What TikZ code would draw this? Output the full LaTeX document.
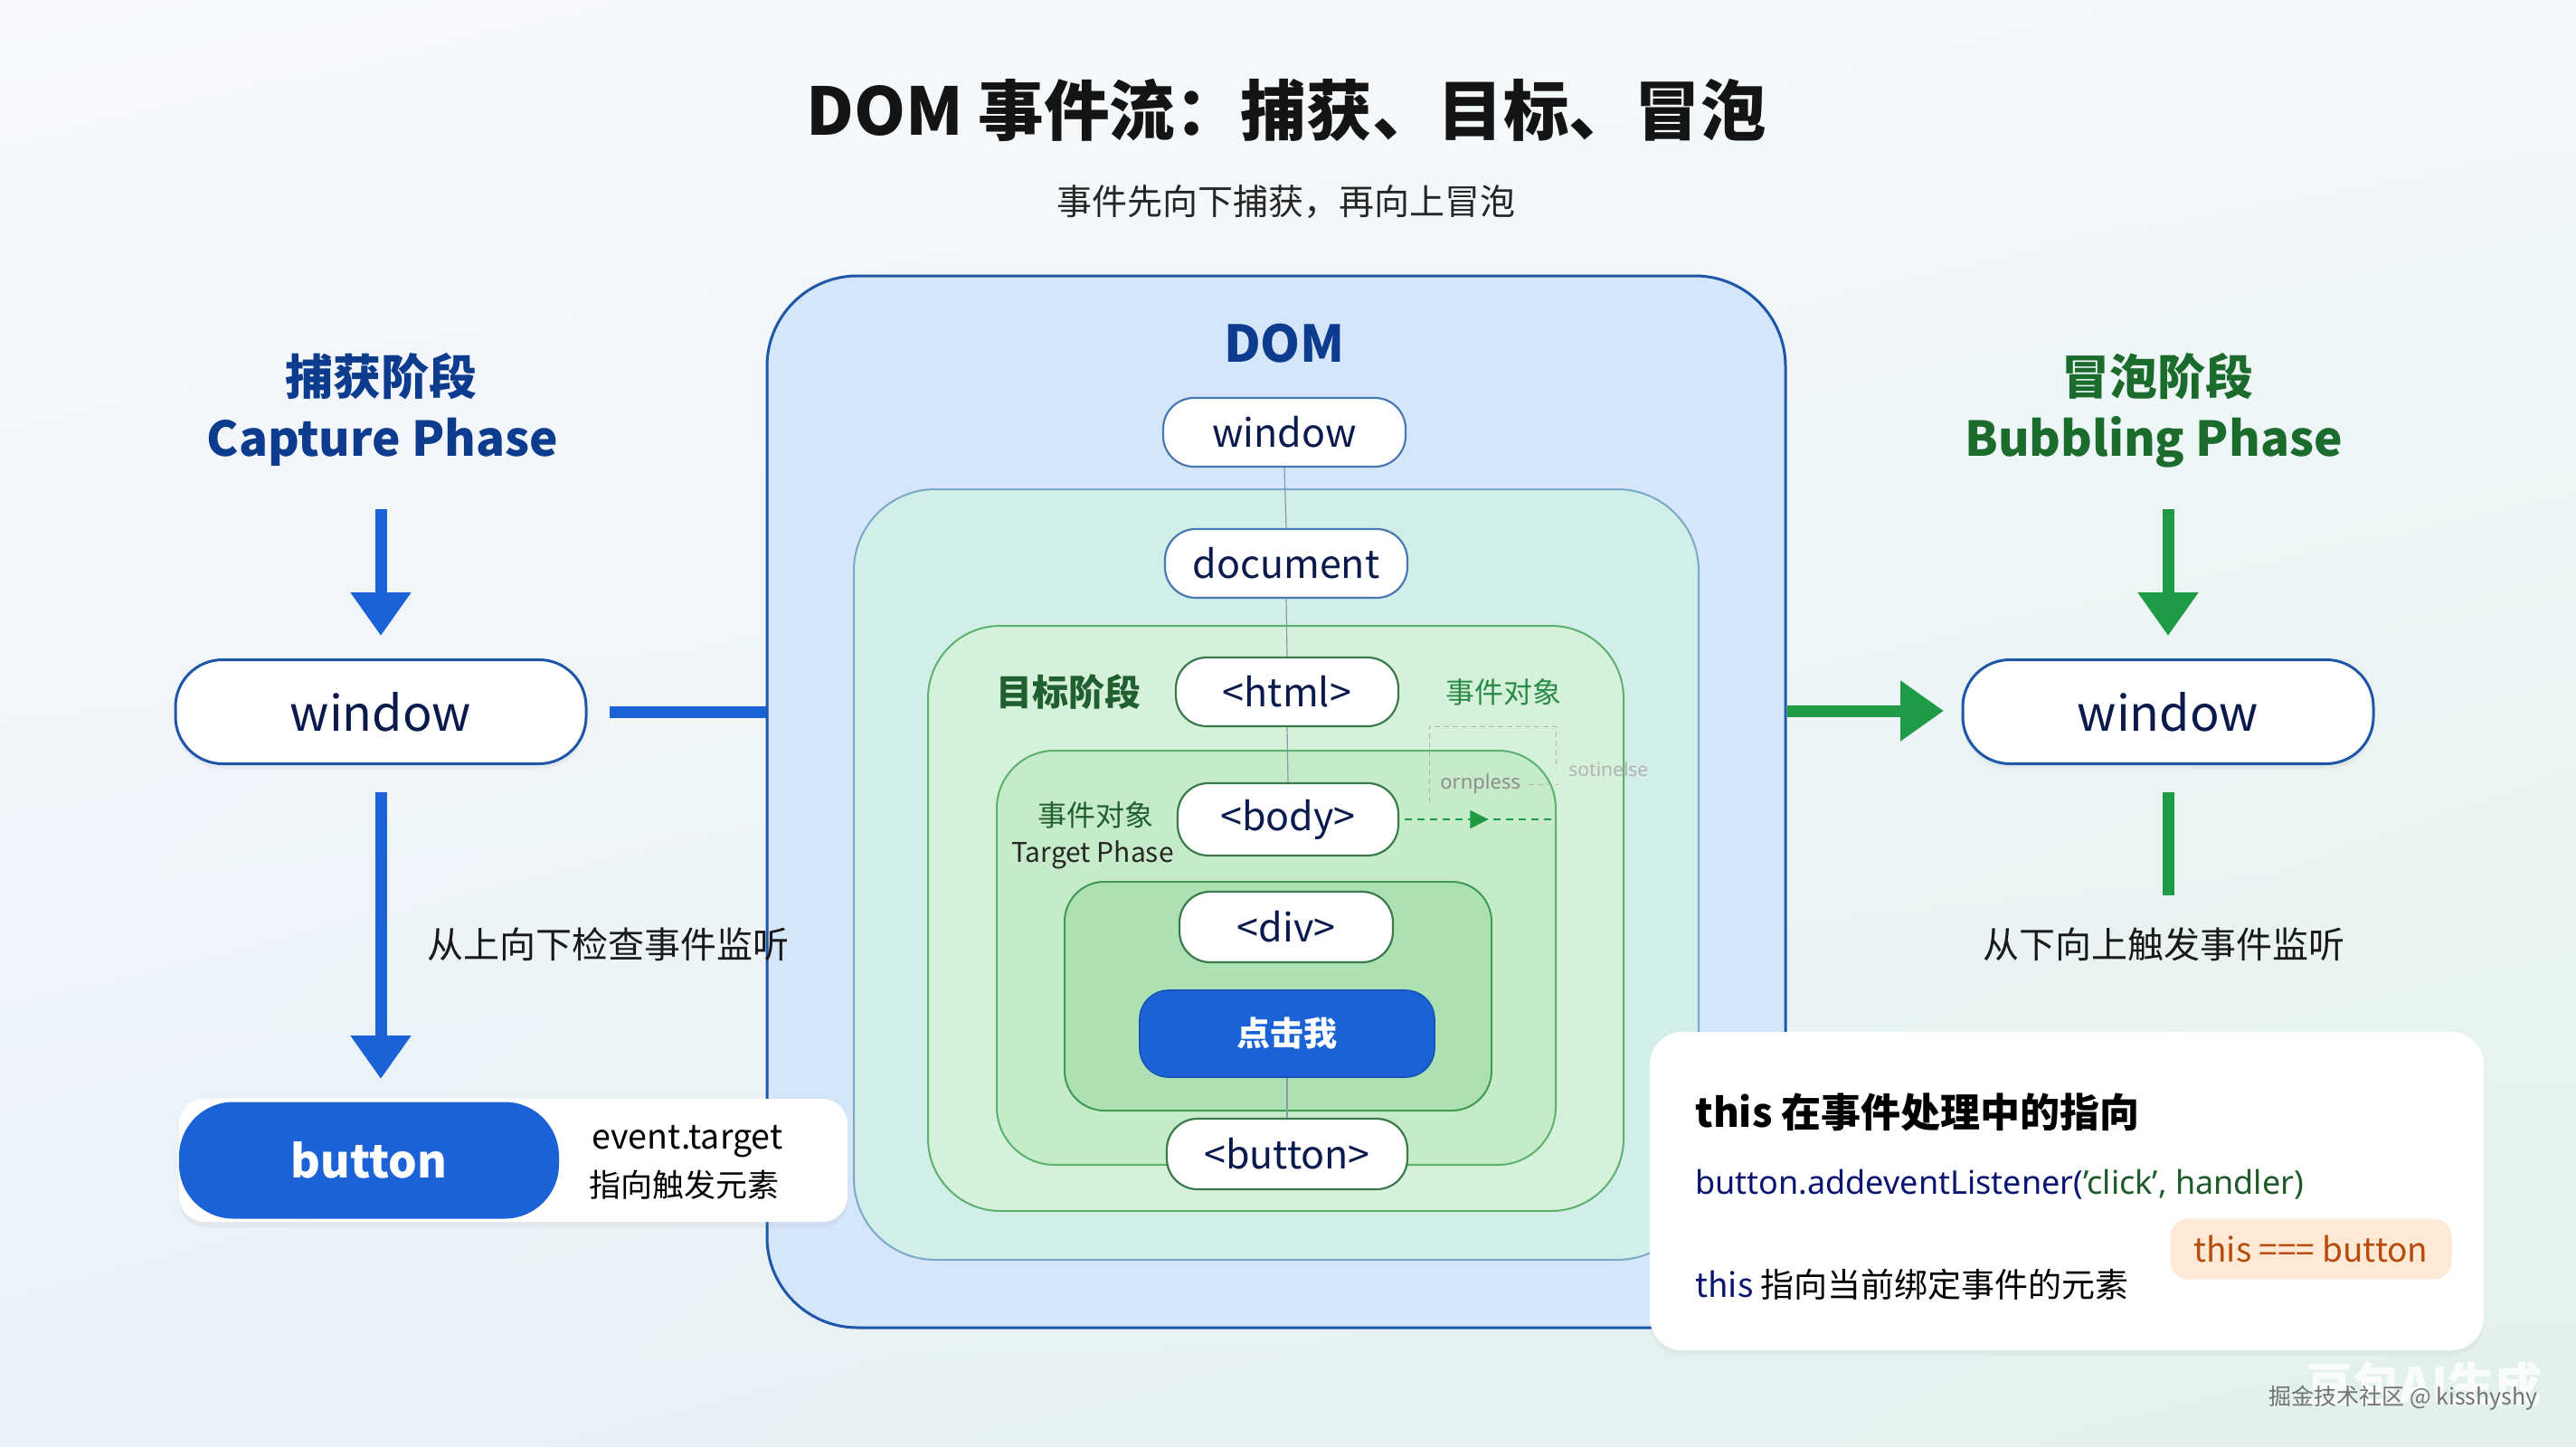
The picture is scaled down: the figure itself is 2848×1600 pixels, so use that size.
\documentclass[tikz,border=0pt]{standalone}
\usepackage{fontspec}
\setmainfont{Noto Sans CJK SC}
\newfontfamily\latinfont{Noto Sans}
\usetikzlibrary{arrows.meta,fit,shadows,shadings,decorations.markings}
\definecolor{bgA}{HTML}{F8FAFD}
\definecolor{bgB}{HTML}{F2F7FA}
\definecolor{bgC}{HTML}{E9F1F8}
\definecolor{bgD}{HTML}{E2F1EC}
\definecolor{domfill}{HTML}{D5E5FA}
\definecolor{domline}{HTML}{1E56A8}
\definecolor{docfill}{HTML}{D2EEE9}
\definecolor{docline}{HTML}{7AA8C8}
\definecolor{htmlfill}{HTML}{D6F1DA}
\definecolor{bodyfill}{HTML}{C5EBC9}
\definecolor{divfill}{HTML}{ADE1B3}
\definecolor{gline}{HTML}{5CB070}
\definecolor{gdark}{HTML}{3E9A55}
\definecolor{navy}{HTML}{0B1A4D}
\definecolor{capblue}{HTML}{0D3B8E}
\definecolor{bblue}{HTML}{1A62D6}
\definecolor{bubgreen}{HTML}{1A6B2C}
\definecolor{agreen}{HTML}{1F9A45}
\definecolor{tgreen}{HTML}{2A8A48}
\definecolor{tdgreen}{HTML}{1F5F30}
\definecolor{codegreen}{HTML}{1E5A2A}
\definecolor{orfill}{HTML}{FDE9D6}
\definecolor{ortext}{HTML}{B84A0A}
\definecolor{bordb}{HTML}{4A78B0}
\definecolor{bordg}{HTML}{3B7A4D}
\definecolor{connc}{HTML}{8A9AA8}
\newcommand\myfs[1]{\fontsize{#1}{#1}\selectfont}
\tikzset{
  box/.style={inner sep=0pt, line width=1pt},
  tagnode/.style={draw=bordg, fill=white, line width=1.1pt, rounded corners=17pt,
    minimum height=38pt, text=navy, font=\myfs{21.5}, inner sep=0pt},
  conn/.style={draw=connc, line width=0.6pt},
  bigarrow/.style={line width=6.5pt, -{Triangle[width=32pt,length=24pt]}},
  sidenode/.style={draw=domline, fill=white, line width=1.5pt, rounded corners=26pt,
    minimum width=227pt, minimum height=57.5pt, text=navy, font=\myfs{27},
    drop shadow={opacity=0.08, shadow xshift=0pt, shadow yshift=-3pt}},
  faint/.style={draw=black!30, line width=0.5pt, dash pattern=on 3pt off 2pt}
}
\begin{document}
\begin{tikzpicture}[x=0.5pt,y=-0.5pt]
\useasboundingbox (0,0) rectangle (2848,1600);
\shade[upper left=bgA, upper right=bgB, lower left=bgC, lower right=bgD] (0,0) rectangle (2848,1600);

% title
\node[font=\bfseries\myfs{36.3}, text=black!92] (title) at (1422,122) {DOM 事件流：捕获、目标、冒泡};
\node[font=\myfs{19.5}, text=black!85] (subtitle) at (1422,223) {事件先向下捕获，再向上冒泡};

% containers
\node[box, fit={(848,305)(1974,1468)}, draw=domline, line width=1.5pt, fill=domfill, rounded corners=50pt] (dombox) {};
\node[font=\bfseries\myfs{28}, text=capblue] (domlabel) at (1420,380) {DOM};
\node[box, fit={(944,541)(1878,1393)}, draw=docline, fill=docfill, rounded corners=45pt] (docbox) {};
\node[box, fit={(1026,692)(1795,1339)}, draw=gline, fill=htmlfill, rounded corners=40pt] (htmlbox) {};
\node[box, fit={(1102,830)(1720,1288)}, draw=gline, fill=bodyfill, rounded corners=32pt] (bodybox) {};
\node[box, fit={(1177,975)(1649,1228)}, draw=gdark, fill=divfill, rounded corners=22pt] (divbox) {};

% labels inside
\node[font=\bfseries\myfs{20}, text=tdgreen] (tgtlabel) at (1181,765) {目标阶段};
\node[font=\myfs{16}, text=tgreen] (evobj1) at (1662,765) {事件对象};
\node[font=\myfs{16}, text=tdgreen] (evobj2) at (1211,901) {事件对象};
\node[font=\myfs{15}, text=black!85] (tphase) at (1208,945) {Target Phase};

% faint artifacts
\coordinate (fa1) at (1580,803);
\coordinate (fa2) at (1580,887);
\coordinate (fa3) at (1720,803);
\coordinate (fa4) at (1720,850);
\coordinate (fa5) at (1690,867);
\coordinate (fa6) at (1722,867);
\draw[faint] (fa2) -- (fa1) -- (fa3) -- (fa4);
\draw[faint] (fa5) -- (fa6);
\node[font=\latinfont\myfs{11}, text=black!45, anchor=west, inner sep=1pt] (ornp) at (1590,867) {ornpless};
\node[font=\latinfont\myfs{10.5}, text=black!30, anchor=west, inner sep=1pt] (sotin) at (1732,851) {sotinelse};

% DOM nodes
\node[tagnode, draw=bordb, minimum width=134pt] (win) at (1420,478) {window};
\node[tagnode, draw=bordb, minimum width=134pt] (doc) at (1422,623) {document};
\node[tagnode, minimum width=123pt] (html) at (1423,765) {<html>};
\node[tagnode, minimum width=122pt, minimum height=40pt] (body) at (1424,906) {<body>};
\node[tagnode, minimum width=118pt, minimum height=39pt] (div) at (1422,1025) {<div>};
\node[fill=bblue, draw=bblue!85!black, line width=0.8pt, rounded corners=16pt, minimum width=163pt, minimum height=48pt,
  text=white, font=\bfseries\myfs{18.5}] (click) at (1423,1143) {点击我};
\node[tagnode, minimum width=133pt, minimum height=39pt] (btn) at (1423,1276) {<button>};

\draw[conn] (win.south) -- (doc.north);
\draw[conn] (doc.south) -- (html.north);
\draw[conn] (html.south) -- (body.north);
\draw[conn] (click.south) -- (btn.north);

\draw[agreen, line width=1pt, dash pattern=on 4pt off 3pt, postaction={decorate},
  decoration={markings, mark=at position 0.55 with {\arrow{Triangle[length=10pt,width=10pt]}}}]
  ([xshift=3pt]body.east) -- (bodybox.east |- body.east);

% left side
\node[font=\bfseries\myfs{26.5}, text=capblue] (capzh) at (421,416) {捕获阶段};
\node[font=\bfseries\myfs{26.5}, text=capblue] (capen) at (423,489) {Capture Phase};
\coordinate (ca1) at (421,563);
\coordinate (ca2) at (421,703);
\draw[bblue, bigarrow] (ca1) -- (ca2);
\node[sidenode] (lwin) at (421,787) {window};
\draw[bblue, line width=6.5pt] ([xshift=12pt]lwin.east) -- (dombox.west |- lwin.east);
\coordinate (cb2) at (421,1193);
\draw[bblue, bigarrow] ([yshift=-15pt]lwin.south) -- (cb2);
\node[font=\myfs{20}, text=black!90] (capdesc) at (672,1044) {从上向下检查事件监听};

\node[box, fit={(198,1215)(937,1351)}, fill=white, rounded corners=14pt,
  drop shadow={opacity=0.08, shadow xshift=0pt, shadow yshift=-3pt}] (lcard) {};
\node[fill=bblue, rounded corners=30pt, minimum width=210pt, minimum height=64.5pt,
  text=white, font=\bfseries\myfs{25}] (lbtn) at (408,1283) {button};
\node[anchor=west, font=\myfs{18.8}, text=black, inner sep=0pt] (evt1) at (654,1262) {event.target};
\node[anchor=west, font=\myfs{17.5}, text=black, inner sep=0pt] (evt2) at (651,1310) {指向触发元素};

% right side
\node[font=\bfseries\myfs{26.5}, text=bubgreen] (bubzh) at (2385,416) {冒泡阶段};
\node[font=\bfseries\myfs{26.5}, text=bubgreen] (buben) at (2381,489) {Bubbling Phase};
\coordinate (ga1) at (2397,563);
\coordinate (ga2) at (2397,703);
\draw[agreen, bigarrow] (ga1) -- (ga2);
\node[sidenode] (rwin) at (2397,787) {window};
\coordinate (gh2) at (2149,786);
\draw[agreen, bigarrow] (dombox.east |- gh2) -- (gh2);
\coordinate (gv2) at (2397,990);
\draw[agreen, line width=6.5pt] ([yshift=-15pt]rwin.south) -- (gv2);
\node[font=\myfs{20}, text=black!90] (bubdesc) at (2392,1044) {从下向上触发事件监听};

% info card
\node[box, fit={(1824,1141)(2746,1493)}, fill=white, rounded corners=18pt,
  drop shadow={opacity=0.08, shadow xshift=0pt, shadow yshift=-3pt}] (info) {};
\node[anchor=west, font=\bfseries\myfs{22}, text=black, inner sep=0pt] (infot) at (1874,1230) {this 在事件处理中的指向};
\node[anchor=west, font=\latinfont\myfs{18}, inner sep=0pt] (code) at (1874,1310)
  {\textcolor{navy!80!blue}{button.addeventListener(}\textcolor{codegreen}{’click’, handler)}};
\node[fill=orfill, rounded corners=10pt, minimum width=155.5pt, minimum height=33.5pt,
  text=ortext, font=\myfs{18.5}] (eqbox) at (2555,1381) {this === button};
\node[anchor=west, font=\myfs{18.5}, text=black, inner sep=0pt] (infod) at (1874,1420) {\textcolor{navy!80!blue}{this} 指向当前绑定事件的元素};

% watermark
\node[font=\bfseries\myfs{26}, text=white, opacity=0.85] (wmbig) at (2680,1531) {豆包AI生成};
\node[font=\myfs{12.5}, text=black!55] (wm) at (2657,1546) {掘金技术社区 @ kisshyshy};
\end{tikzpicture}
\end{document}
